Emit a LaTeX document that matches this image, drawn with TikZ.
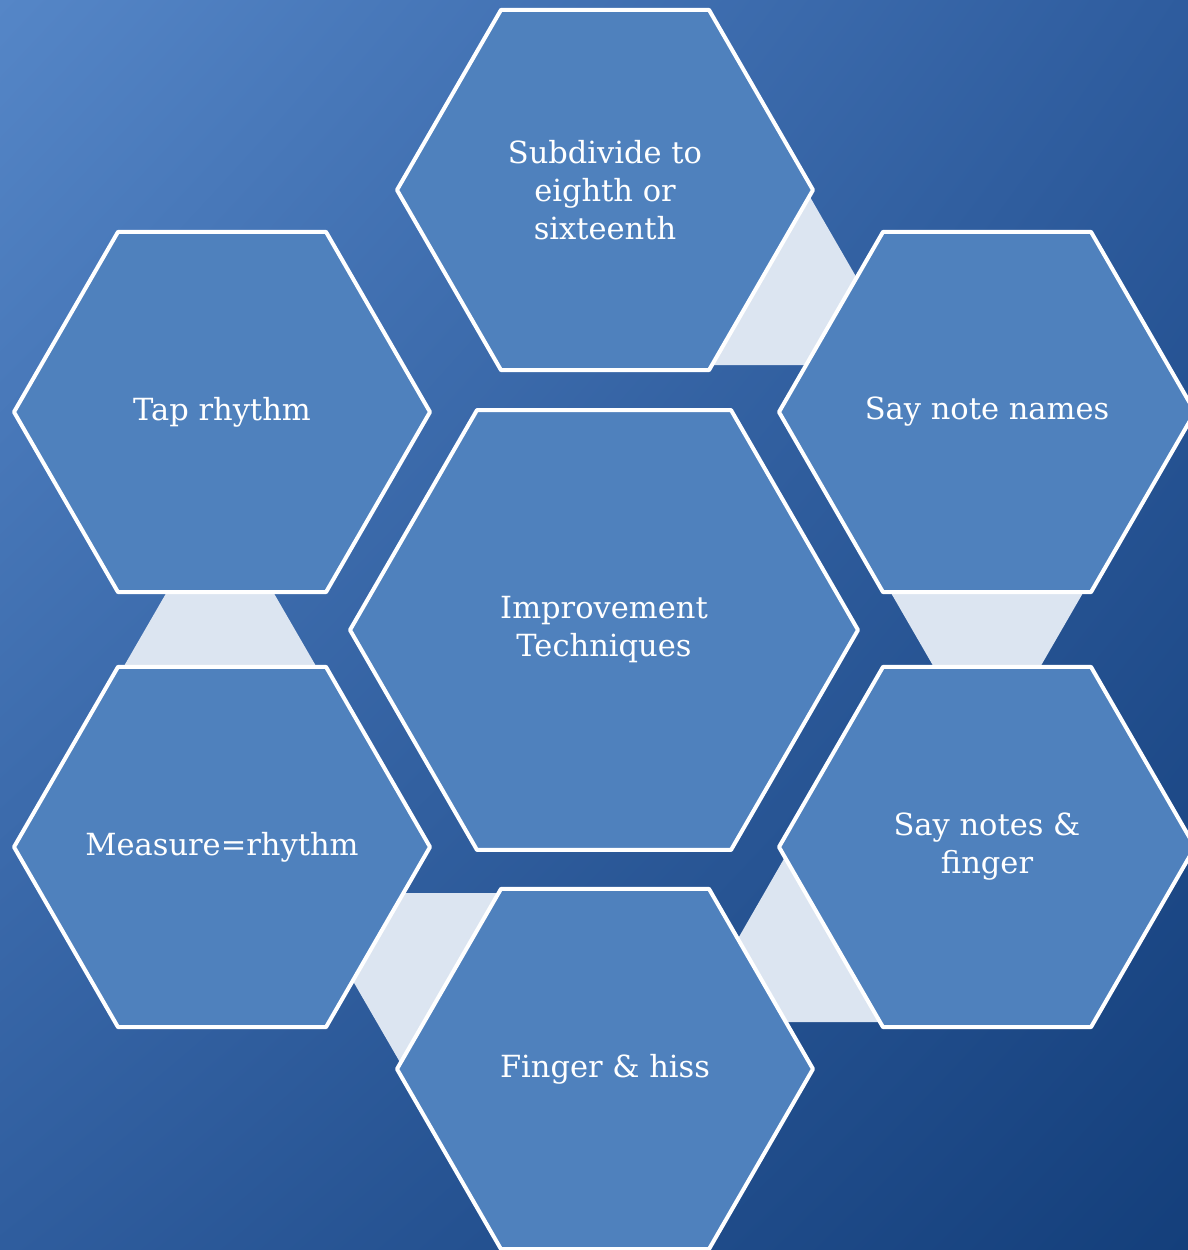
\documentclass[tikz,border=0pt]{standalone}
\usepackage{fontspec}
\setmainfont{DejaVu Serif}
\usetikzlibrary{shapes.geometric,shadings}
\definecolor{bgTL}{HTML}{5586C7}
\definecolor{bgTR}{HTML}{2E5C9E}
\definecolor{bgBL}{HTML}{2F5D9E}
\definecolor{bgBR}{HTML}{143F7B}
\definecolor{hexfill}{HTML}{4F81BD}
\definecolor{linkfill}{HTML}{DCE5F1}
\tikzset{
  hexbox/.style={regular polygon,regular polygon sides=6,minimum size=416pt,
    fill=hexfill,draw=white,line width=4pt,text=white,align=center,
    inner sep=0pt,font=\fontsize{30.5}{38}\selectfont},
  bighex/.style={hexbox,minimum size=508pt},
  link/.style={fill=linkfill}
}
\begin{document}
\begin{tikzpicture}[x=1pt,y=-1pt,line join=round]
	\useasboundingbox (0,0) rectangle (1188,1250);
	\shade[upper left=bgTL,upper right=bgTR,lower left=bgBL,lower right=bgBR]
	  (0,0) rectangle (1188,1250);
	% light links between the outer hexagons
	\fill[link] (806,190)--(907,365)--(705,365)--cycle;
	\fill[link] (887,586)--(1087,586)--(987,759)--cycle;
	\fill[link] (789,850)--(888,1022)--(690,1022)--cycle;
	\fill[link] (302,893)--(500,893)--(401,1064)--cycle;
	\fill[link] (220,500)--(320,673)--(120,673)--cycle;
	% hexagons
	\node[bighex] (tech) at (604,630) {Improvement\\Techniques};
	\node[hexbox] (subdiv) at (605,190) {Subdivide to\\eighth or\\sixteenth};
	\node[hexbox] (names) at (987,412) {\makebox[0pt]{Say note names}};
	\node[hexbox] (notes) at (987,847) {Say notes \&\\finger};
	\node[hexbox] (hiss) at (605,1069) {Finger \& hiss};
	\node[hexbox] (measure) at (222,847) {\makebox[0pt]{Measure=rhythm}};
	\node[hexbox] (tap) at (222,412) {Tap rhythm};
\end{tikzpicture}
\end{document}
